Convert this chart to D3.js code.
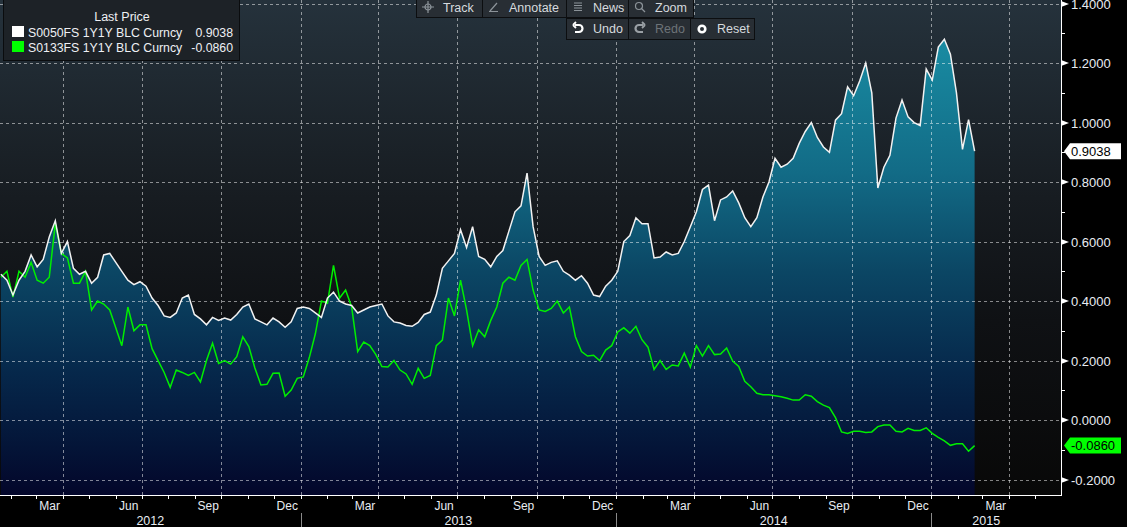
<!DOCTYPE html>
<meta charset="utf-8">
<head>
  <title>S0050FS / S0133FS 1Y1Y</title>
  <style>
    body { margin: 0; background: #000; }
    svg { display: block; font-family: "Liberation Sans", Arial, sans-serif; }
  </style>
</head>

<body>
  <svg width="1127" height="527"></svg>

  <script src="https://cdnjs.cloudflare.com/ajax/libs/d3/7.8.5/d3.min.js"></script>
  <script>
// weekly closes, first one on Fri 20 Jan 2012
var startDate = new Date(2012, 0, 20);

var s0050 = [
  0.49, 0.47, 0.42, 0.47, 0.50, 0.555, 0.515, 0.54, 0.615, 0.67,
  0.56, 0.60, 0.51, 0.49, 0.50, 0.46, 0.48, 0.555, 0.56, 0.53,
  0.50, 0.47, 0.455, 0.465, 0.45, 0.41, 0.385, 0.35, 0.345, 0.36,
  0.41, 0.42, 0.355, 0.34, 0.32, 0.345, 0.335, 0.343, 0.336, 0.355,
  0.38, 0.39, 0.34, 0.33, 0.32, 0.343, 0.33, 0.312, 0.33, 0.375,
  0.38, 0.375, 0.36, 0.345, 0.41, 0.43, 0.40, 0.39, 0.385, 0.36,
  0.37, 0.38, 0.385, 0.39, 0.35, 0.33, 0.326, 0.318, 0.315, 0.328,
  0.355, 0.363, 0.42, 0.51, 0.535, 0.56, 0.64, 0.58, 0.65, 0.55,
  0.54, 0.515, 0.55, 0.57, 0.635, 0.70, 0.72, 0.83, 0.65, 0.55,
  0.52, 0.53, 0.535, 0.50, 0.487, 0.47, 0.485, 0.46, 0.42, 0.415,
  0.45, 0.47, 0.50, 0.60, 0.62, 0.68, 0.66, 0.66, 0.545, 0.548,
  0.565, 0.555, 0.56, 0.60, 0.65, 0.70, 0.775, 0.79, 0.67, 0.74,
  0.75, 0.77, 0.73, 0.68, 0.65, 0.68, 0.75, 0.80, 0.88, 0.85,
  0.86, 0.88, 0.93, 0.97, 1.00, 0.95, 0.918, 0.90, 1.008, 1.03,
  1.12, 1.09, 1.14, 1.20, 1.10, 0.78, 0.85, 0.89, 1.015, 1.076,
  1.019, 1.00, 0.99, 1.18, 1.143, 1.254, 1.28, 1.23, 1.10, 0.91,
  1.01, 0.9038
];

var s0133 = [
  0.48, 0.50, 0.413, 0.50, 0.48, 0.53, 0.47, 0.46, 0.48, 0.66,
  0.56, 0.545, 0.46, 0.46, 0.50, 0.37, 0.40, 0.39, 0.37, 0.31,
  0.25, 0.38, 0.30, 0.32, 0.32, 0.24, 0.20, 0.16, 0.11, 0.168,
  0.16, 0.15, 0.16, 0.128, 0.20, 0.258, 0.19, 0.20, 0.188, 0.213,
  0.28, 0.247, 0.175, 0.118, 0.12, 0.157, 0.158, 0.08, 0.101, 0.14,
  0.145, 0.21, 0.29, 0.40, 0.393, 0.52, 0.41, 0.437, 0.38, 0.23,
  0.262, 0.25, 0.22, 0.18, 0.178, 0.20, 0.168, 0.155, 0.12, 0.174,
  0.14, 0.15, 0.25, 0.269, 0.41, 0.35, 0.47, 0.37, 0.25, 0.303,
  0.28, 0.335, 0.38, 0.46, 0.48, 0.47, 0.52, 0.54, 0.437, 0.37,
  0.365, 0.375, 0.40, 0.36, 0.38, 0.28, 0.23, 0.215, 0.218, 0.20,
  0.235, 0.25, 0.296, 0.31, 0.292, 0.315, 0.27, 0.245, 0.17, 0.20,
  0.17, 0.185, 0.182, 0.225, 0.178, 0.25, 0.215, 0.25, 0.22, 0.222,
  0.242, 0.198, 0.18, 0.13, 0.112, 0.09, 0.085, 0.085, 0.082, 0.078,
  0.073, 0.067, 0.067, 0.085, 0.08, 0.062, 0.05, 0.042, 0.008, -0.04,
  -0.045, -0.038, -0.038, -0.042, -0.04, -0.022, -0.017, -0.017, -0.038, -0.04,
  -0.028, -0.035, -0.035, -0.026, -0.045, -0.058, -0.07, -0.085, -0.08, -0.08,
  -0.105, -0.086
];

var seriesNames = ['S0050FS 1Y1Y BLC Curncy', 'S0133FS 1Y1Y BLC Curncy'];
var seriesColors = ['#ffffff', '#00ff00'];
var yTicks = [-0.2, 0, 0.2, 0.4, 0.6, 0.8, 1.0, 1.2, 1.4];
var yMinor = [-0.1, 0.1, 0.3, 0.5, 0.7, 0.9, 1.1, 1.3];

var W = 1061, H = 495;

var svg = d3.select('svg');
var defs = svg.append('defs');

var bg = defs.append('linearGradient').attr('id', 'bg')
  .attr('x1', 0).attr('y1', 0).attr('x2', 0).attr('y2', 1);
bg.append('stop').attr('offset', '0%').attr('stop-color', '#25323c');
bg.append('stop').attr('offset', '40%').attr('stop-color', '#171c21');
bg.append('stop').attr('offset', '65%').attr('stop-color', '#0f1114');
bg.append('stop').attr('offset', '100%').attr('stop-color', '#080808');

var fill = defs.append('linearGradient').attr('id', 'fill')
  .attr('gradientUnits', 'userSpaceOnUse')
  .attr('x1', 0).attr('y1', 0).attr('x2', 0).attr('y2', H);
[[0, '#1c95ab'], [0.15, '#17839b'], [0.35, '#126b86'], [0.55, '#0b4664'],
 [0.75, '#06284b'], [0.9, '#041538'], [1, '#03062a']].forEach(function(s) {
  fill.append('stop').attr('offset', s[0]).attr('stop-color', s[1]);
});

defs.append('clipPath').attr('id', 'plot')
  .append('rect').attr('width', W).attr('height', H);

var x = d3.scaleTime()
  .domain([new Date(2012, 0, 19), new Date(2015, 4, 31)])
  .range([0, W]);
var y = d3.scaleLinear().domain([-0.252, 1.412]).range([H, 0]);

var dates = s0050.map(function(d, i) { return d3.timeDay.offset(startDate, 7 * i); });
var white = s0050.map(function(v, i) { return {date: dates[i], v: v}; });
var green = s0133.map(function(v, i) { return {date: dates[i], v: v}; });

svg.append('rect').attr('width', W).attr('height', H).attr('fill', 'url(#bg)');

var plot = svg.append('g').attr('clip-path', 'url(#plot)');

var area = d3.area()
  .x(function(d) { return x(d.date); })
  .y0(H)
  .y1(function(d) { return y(d.v); });
var line = d3.line()
  .x(function(d) { return x(d.date); })
  .y(function(d) { return y(d.v); });

plot.append('path').attr('d', area(white)).attr('fill', 'url(#fill)');

// grid
var quarters = d3.timeMonth.every(3).range(x.domain()[0], x.domain()[1]);
plot.selectAll('.vg').data(quarters).enter().append('line')
  .attr('x1', function(d) { return Math.round(x(d)) + 0.5; })
  .attr('x2', function(d) { return Math.round(x(d)) + 0.5; })
  .attr('y1', 0).attr('y2', H);
plot.selectAll('.hg').data(yTicks).enter().append('line')
  .attr('x1', 0).attr('x2', W)
  .attr('y1', function(d) { return Math.round(y(d)) + 0.5; })
  .attr('y2', function(d) { return Math.round(y(d)) + 0.5; });
plot.selectAll('line')
  .attr('stroke', 'rgba(255,255,255,0.5)')
  .attr('stroke-dasharray', '3,3');

plot.append('path').attr('d', line(green))
  .attr('fill', 'none').attr('stroke', '#00ee00').attr('stroke-width', 1.5);
plot.append('path').attr('d', line(white))
  .attr('fill', 'none').attr('stroke', '#f2f2f2').attr('stroke-width', 1.5);

// right axis
var ax = svg.append('g');
ax.append('line').attr('x1', W + 0.5).attr('x2', W + 0.5).attr('y1', 0).attr('y2', H + 1)
  .attr('stroke', '#fff');
ax.selectAll('.mn').data(yMinor).enter().append('line')
  .attr('x1', W).attr('x2', W + 4)
  .attr('y1', function(d) { return Math.round(y(d)) + 0.5; })
  .attr('y2', function(d) { return Math.round(y(d)) + 0.5; })
  .attr('stroke', '#fff');
var yt = ax.selectAll('.yt').data(yTicks).enter().append('g')
  .attr('transform', function(d) { return 'translate(' + W + ',' + Math.round(y(d)) + ')'; });
yt.append('path').attr('d', 'M0,-3L8,0L0,3Z').attr('fill', '#fff');
yt.append('text').attr('x', 10).attr('dy', '0.35em')
  .attr('fill', '#e8ecf2').attr('font-size', 13)
  .text(function(d) { return d.toFixed(4); });

// last value flags
var last = [s0050[s0050.length - 1], s0133[s0133.length - 1]];
var flags = ax.selectAll('.flag').data(last).enter().append('g')
  .attr('transform', function(d) { return 'translate(' + (W + 3) + ',' + y(d) + ')'; });
flags.append('path')
  .attr('d', 'M0,0L6,-8H57V8H6Z')
  .attr('fill', function(d, i) { return seriesColors[i]; });
flags.append('text').attr('x', 7).attr('dy', '0.36em')
  .attr('font-size', 13).attr('fill', '#000')
  .text(function(d) { return d.toFixed(4); });

// bottom axis
var bx = svg.append('g');
bx.append('line').attr('x1', 0).attr('x2', W + 1).attr('y1', H + 0.5).attr('y2', H + 0.5)
  .attr('stroke', '#fff');
var months = d3.timeMonth.range(x.domain()[0], x.domain()[1]);
bx.selectAll('.mt').data(months).enter().append('line')
  .attr('x1', function(d) { return Math.round(x(d)) + 0.5; })
  .attr('x2', function(d) { return Math.round(x(d)) + 0.5; })
  .attr('y1', H).attr('y2', H + 4)
  .attr('stroke', '#fff');
bx.selectAll('.ml').data(months.filter(function(d) { return d.getMonth() % 3 === 2; }))
  .enter().append('text')
  .attr('x', function(d) { return (x(d) + x(d3.timeMonth.offset(d, 1))) / 2; })
  .attr('y', H + 15)
  .attr('text-anchor', 'middle').attr('font-size', 12).attr('fill', '#e8ecf2')
  .text(d3.timeFormat('%b'));
var years = d3.timeYear.range(new Date(2012, 0, 1), x.domain()[1]);
bx.selectAll('.ys').data(years.filter(function(d) { return x(d) > 0; }))
  .enter().append('line')
  .attr('x1', function(d) { return Math.round(x(d)) + 0.5; })
  .attr('x2', function(d) { return Math.round(x(d)) + 0.5; })
  .attr('y1', H + 18).attr('y2', 527)
  .attr('stroke', '#8a8a8a');
bx.selectAll('.yl').data(years).enter().append('text')
  .attr('x', function(d) {
    var a = Math.max(0, x(d)), b = Math.min(W - 20, x(d3.timeYear.offset(d, 1)));
    return (a + b) / 2;
  })
  .attr('y', H + 30)
  .attr('text-anchor', 'middle').attr('font-size', 12.5).attr('fill', '#e8ecf2')
  .text(d3.timeFormat('%Y'));

// legend
var lg = svg.append('g');
lg.append('rect').attr('x', 3.5).attr('y', -1).attr('width', 236).attr('height', 61.5)
  .attr('fill', '#1d2227').attr('stroke', '#0a0c0e');
lg.append('text').attr('x', 122).attr('y', 21).attr('text-anchor', 'middle')
  .attr('font-size', 12.5).attr('fill', '#eef0f4').text('Last Price');
var rows = lg.selectAll('.row').data(seriesNames).enter().append('g')
  .attr('transform', function(d, i) { return 'translate(0,' + (37 + i * 15) + ')'; });
rows.append('rect').attr('x', 12).attr('y', -11).attr('width', 12).attr('height', 11)
  .attr('fill', function(d, i) { return seriesColors[i]; });
rows.append('text').attr('x', 28).attr('font-size', 12.3).attr('fill', '#eef0f4')
  .text(function(d) { return d; });
rows.append('text').attr('x', 233).attr('text-anchor', 'end')
  .attr('font-size', 12.3).attr('fill', '#eef0f4')
  .text(function(d, i) { return last[i].toFixed(4); });

// toolbar
var tb = svg.append('g').attr('font-size', 12.5);
var buttons = [
  {label: 'Track', x: 416, w: 66, row: 0, icon: 'track'},
  {label: 'Annotate', x: 482, w: 84, row: 0, icon: 'pen'},
  {label: 'News', x: 566, w: 62, row: 0, icon: 'news'},
  {label: 'Zoom', x: 628, w: 65, row: 0, icon: 'zoom'},
  {label: 'Undo', x: 566, w: 62, row: 1, icon: 'undo'},
  {label: 'Redo', x: 628, w: 62, row: 1, icon: 'redo', off: true},
  {label: 'Reset', x: 690, w: 64, row: 1, icon: 'reset'}
];
var bt = tb.selectAll('.bt').data(buttons).enter().append('g')
  .attr('transform', function(d) { return 'translate(' + d.x + ',' + (d.row ? 18 : -2) + ')'; });
bt.append('rect').attr('x', 0.5).attr('y', 0.5)
  .attr('width', function(d) { return d.w; }).attr('height', function(d) { return d.row ? 21 : 19; })
  .attr('fill', '#282e34').attr('stroke', '#0c0e10');
bt.append('text')
  .attr('x', function(d) { return d.icon === 'pen' ? 27 : 27; })
  .attr('y', function(d) { return d.row ? 15 : 13.5; })
  .attr('fill', function(d) { return d.off ? '#6d7378' : '#d6dade'; })
  .text(function(d) { return d.label; });
bt.each(function(d) {
  var g = d3.select(this).append('g')
    .attr('transform', 'translate(12,' + (d.row ? 11 : 9) + ')')
    .attr('fill', 'none').attr('stroke', '#8c9399').attr('stroke-width', 1.2);
  if (d.icon === 'track') {
    g.append('circle').attr('r', 3);
    g.append('path').attr('d', 'M-6,0H6M0,-6V6');
  } else if (d.icon === 'pen') {
    g.append('path').attr('d', 'M-4,4L3,-4M-5,4.5H4');
  } else if (d.icon === 'news') {
    g.append('path').attr('d', 'M-4,-4H4M-4,-1.5H4M-4,1H4M-4,3.5H4');
  } else if (d.icon === 'zoom') {
    g.append('circle').attr('cx', -1).attr('cy', -1).attr('r', 3.5);
    g.append('path').attr('d', 'M1.5,1.5L5,5');
  } else if (d.icon === 'undo') {
    g.attr('stroke', '#fff').attr('stroke-width', 2.2);
    g.append('path').attr('d', 'M-3,-4H1A3.5,3.5 0 0 1 1,3H-3');
    g.append('path').attr('d', 'M-5,-4L-2,-7M-5,-4L-2,-1').attr('stroke-width', 1.8);
  } else if (d.icon === 'redo') {
    g.attr('stroke', '#9aa0a5').attr('stroke-width', 2.2);
    g.append('path').attr('d', 'M3,-4H-1A3.5,3.5 0 0 0 -1,3H3');
    g.append('path').attr('d', 'M5,-4L2,-7M5,-4L2,-1').attr('stroke-width', 1.8);
  } else {
    g.attr('stroke', '#fff').attr('stroke-width', 2.6);
    g.append('circle').attr('r', 3.3);
  }
});
  </script>
</body>
</html>
